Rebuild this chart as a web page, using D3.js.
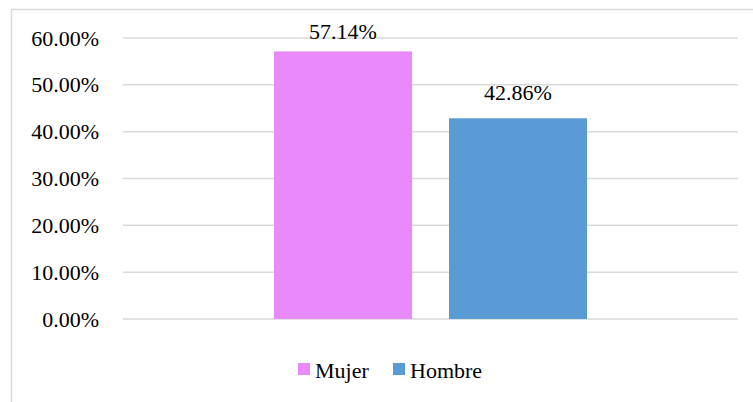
<!DOCTYPE html>
<html>
<head>
<meta charset="utf-8">
<script src="https://cdn.jsdelivr.net/npm/d3@7"></script>
<style>
  body { margin: 0; font-family: "Liberation Serif", serif; }
  #chart text { font-family: "Liberation Serif", serif; font-size: 22px; fill: #000; }
</style>
</head>
<body>
<svg id="chart" width="753" height="402"></svg>
<script>
// Data
const categories = ["Sexo"];
const seriesNames = ["Mujer", "Hombre"];
const seriesValues = [57.14, 42.86];
const seriesColors = ["#E98AFA", "#5B9BD5"];
const yTicks = [0, 10, 20, 30, 40, 50, 60];

const W = 753, H = 402;
const FONT = "Liberation Serif";
const margin = { top: 38, right: 15, bottom: 83, left: 123 };

function draw() {
  const svg = d3.select("#chart");

  // Outer chart frame
  svg.append("rect")
    .attr("x", 11.5).attr("y", 9.5)
    .attr("width", W + 10).attr("height", H + 10)
    .attr("fill", "none").attr("stroke", "#D9D9D9").attr("stroke-width", 1.5);

  const y = d3.scaleLinear().domain([0, 60]).range([H - margin.bottom, margin.top]);
  const x0 = d3.scaleBand().domain(categories)
    .range([margin.left, W - margin.right]).paddingInner(0).paddingOuter(0.4824);
  const x1 = d3.scaleBand().domain(seriesNames)
    .range([0, x0.bandwidth()]).paddingInner(0.2114).paddingOuter(0);

  // Gridlines
  svg.append("g").selectAll("line").data(yTicks).join("line")
    .attr("x1", margin.left).attr("x2", W - margin.right)
    .attr("y1", d => y(d)).attr("y2", d => y(d))
    .attr("stroke", "#D9D9D9").attr("stroke-width", 1.5);

  // Y axis labels
  const fmt = d => d.toFixed(2) + "%";
  svg.append("g").selectAll("text").data(yTicks).join("text")
    .attr("x", margin.left - 24)
    .attr("y", d => y(d) + 7.5)
    .attr("text-anchor", "end")
    .attr("font-family", FONT)
    .text(fmt);

  // Bars
  const gx = x0(categories[0]);
  svg.append("g").selectAll("rect").data(seriesNames).join("rect")
    .attr("x", d => gx + x1(d))
    .attr("y", (d, i) => y(seriesValues[i]))
    .attr("width", x1.bandwidth())
    .attr("height", (d, i) => y(0) - y(seriesValues[i]))
    .attr("fill", (d, i) => seriesColors[i]);

  // Value labels above the bars
  svg.append("g").selectAll("text").data(seriesNames).join("text")
    .attr("x", d => gx + x1(d) + x1.bandwidth() / 2)
    .attr("y", (d, i) => Math.max(y(seriesValues[i]) - 18, margin.top + 1))
    .attr("text-anchor", "middle")
    .attr("font-family", FONT)
    .text((d, i) => fmt(seriesValues[i]));

  // Legend
  const legendX = [298, 393];
  const legend = svg.append("g");
  legend.selectAll("rect").data(seriesNames).join("rect")
    .attr("x", (d, i) => legendX[i]).attr("y", 363)
    .attr("width", 12).attr("height", 12)
    .attr("fill", (d, i) => seriesColors[i]);
  legend.selectAll("text").data(seriesNames).join("text")
    .attr("x", (d, i) => legendX[i] + 17).attr("y", 377.5)
    .attr("font-family", FONT)
    .text(d => d);
}

if (document.fonts && document.fonts.load) {
  document.fonts.load('22px "Liberation Serif"').then(draw, draw);
} else {
  draw();
}
</script>
</body>
</html>
